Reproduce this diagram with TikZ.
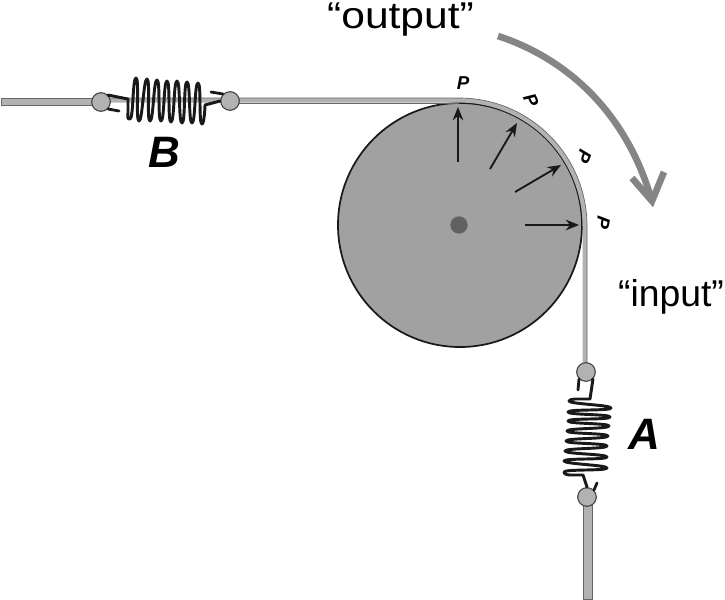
\documentclass[tikz,border=0pt]{standalone}
\usepackage{fontspec}
\setmainfont{Liberation Sans}
\definecolor{disc}{gray}{0.63}
\definecolor{band}{gray}{0.70}
\definecolor{dark}{gray}{0.1}
\usetikzlibrary{arrows.meta}
\tikzset{
 px/.style={x=0.75pt,y=-0.75pt},
 coil/.style={draw=dark,line width=2.2pt,line join=round,line cap=round},
 tail/.style={draw=dark,line width=2.1pt,line cap=round},
 pin/.style={circle,draw=black!75,fill=band,line width=0.8pt,minimum size=14pt,inner sep=0pt},
 push/.style={draw=dark,line width=1.4pt,-{Stealth[length=10pt,width=8pt]}},
 letter/.style={font=\fontsize{33}{33}\selectfont\bfseries\itshape,inner sep=0pt},
 plab/.style={font=\fontsize{14}{14}\selectfont\bfseries\itshape,inner sep=0pt},
 edgeline/.style={draw=black!60,line width=0.5pt},
 flow/.style={draw=black!48,line width=5pt}
}
\begin{document}
\begin{tikzpicture}[px]
\useasboundingbox (0,0) rectangle (725,600);
\fill[white] (0,0) rectangle (725,600);
% disc
\node[circle,draw=dark,fill=disc,line width=1.3pt,minimum size=183pt,inner sep=0pt] (wheel) at (460,225) {};
\node[circle,fill=black!62,minimum size=13pt,inner sep=0pt] (axle) at (459,225) {};
% band
\fill[band] (1,98) -- (459,98) arc[start angle=-90,end angle=0,radius=128] -- (587,372) -- (582.5,372) -- (582.5,226) arc[start angle=0,end angle=-90,radius=123.5] -- (1,102.5) -- cycle;
\draw[edgeline] (100,98) -- (459,98) arc[start angle=-90,end angle=0,radius=128] -- (587,372);
\draw[edgeline] (230,103) -- (459,103);
\fill[band] (1,98) rectangle (100,105);
\draw[edgeline] (100,98) -- (1,98) -- (1,105) -- (100,105);
\fill[band] (583,497) rectangle (592,599);
\draw[edgeline] (583,505) -- (583,599) -- (592,599) -- (592,505);
% pins
\node[pin] (b1) at (101,102) {};
\node[pin] (b2) at (230,101) {};
\node[pin] (a1) at (586,372) {};
\node[pin] (a2) at (587,497) {};
% spring B
\draw[coil] (b1.north east) -- (128,99) -- (128,112) .. controls +(0,6) and +(-3,0) .. (130,119)
 \foreach \p in {(136,78),(139,121),(147,79),(150,121),(157,80),(161,121),(167,81),(171,122),(177,81),(182,123),(187,82),(192,123),(198,83),(202,124)}
 { .. controls +(3.5,0) and +(-3.5,0) .. \p }
 .. controls +(2,0) and +(0,4) .. (205,105) -- (b2.west);
\draw[tail] (b1.south east) -- (119,111);
\draw[tail] (b2.north west) -- (211,92);
% spring A
\draw[coil] (a1.south east) -- (590,399) -- (575,399) .. controls +(-3,0) and +(0,-1) .. (569,401)
 \foreach \p in {(611,408),(568,412),(610,417),(568,421),(609,426),(567,431),(608,436),(566,441),(607,446),(565,451),(607,457),(564,461),(607,468),(564,472)}
 { .. controls +(0,3) and +(0,-3) .. \p }
 .. controls +(0,3) and +(-3,0) .. (572,475) -- (583,475) -- (a2.north);
\draw[tail] (a1.south west) -- (578,390);
\draw[tail] (a2.north east) -- (597,483);
% pressure arrows
\coordinate (s1) at (458,162); \coordinate (e1) at (458,107);
\coordinate (s2) at (490,169); \coordinate (e2) at (517,123);
\coordinate (s3) at (515,192); \coordinate (e3) at (561,165);
\coordinate (s4) at (525,225); \coordinate (e4) at (579,225);
\draw[push] (s1) -- (e1);
\draw[push] (s2) -- (e2);
\draw[push] (s3) -- (e3);
\draw[push] (s4) -- (e4);
% labels
\node[plab] (p1) at (463,83) {P};
\node[plab,rotate=-65] (p2) at (531,100) {P};
\node[plab,rotate=-110] (p3) at (584,157) {P};
\node[plab,rotate=-100] (p4) at (603,223) {P};
\node[letter] (lb) at (164,152) {B};
\node[letter] (la) at (644,434) {A};
\node[font=\fontsize{28}{28}\selectfont,inner sep=0pt] (out) at (400.5,20) {\scalebox{1.14}[1]{“output”}};
\node[font=\fontsize{28}{28}\selectfont,inner sep=0pt] (inp) at (671,297) {“input”};
% flow arrow
\coordinate (f1) at (498,36);
\coordinate (f2) at (651,198);
\coordinate (h1) at (632,178);
\coordinate (h2) at (664,172);
\draw[flow] (f1) .. controls (565,58) and (625,110) .. (f2);
\draw[flow,line join=miter] (h1) -- (652,201) -- (h2);
\end{tikzpicture}
\end{document}
